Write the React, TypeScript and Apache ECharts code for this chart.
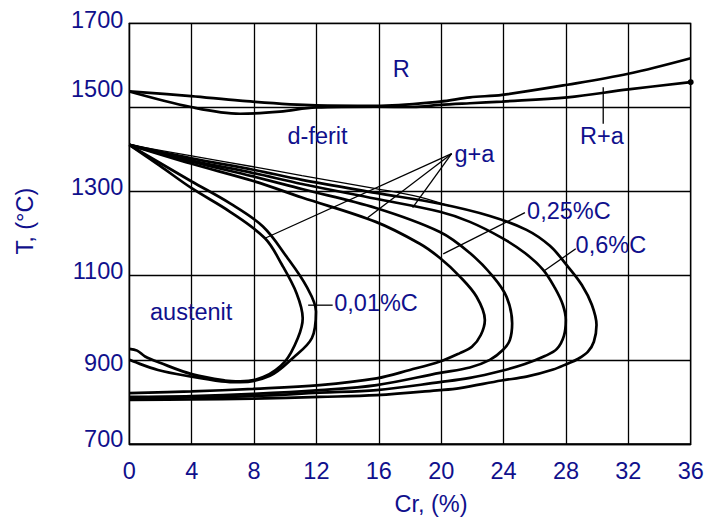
import React, { useEffect, useRef } from "react";
import * as echarts from "echarts";

type P = [number, number];

// Cr (%) vs T (°C)
const liquidusUpper: P[] = [[0,1538],[3.96,1527],[7.1,1516],[11.97,1505],[15.82,1504],[19.92,1514],[21.84,1524],[23.91,1530],[28.1,1554],[32.0,1580],[36,1617]];
const liquidusLower: P[] = [[0,1538],[3.96,1501],[7.1,1485],[9.66,1490],[11.97,1500],[15.82,1502],[18.19,1501],[19.92,1506],[21.84,1510],[23.91,1514],[28.1,1524],[32.0,1543],[36,1560]];

const loopA: P[] = [[0,1411],[1.97,1361],[4.0,1308],[6.46,1252],[8.7,1189],[9.79,1126],[10.73,1058],[11.12,999],[10.81,952],[9.98,896],[8.59,859],[7.1,849],[6.13,851],[4.0,866],[1.97,893],[1.01,908],[0.5,922],[0,926]];
const loopB: P[] = [[0,1411],[1.97,1368],[4.0,1324],[6.46,1272],[8.57,1217],[10.09,1145],[11.37,1074],[11.97,1015],[11.71,952],[10.51,905],[9.02,862],[7.1,847],[5.92,849],[4.0,860],[1.84,876],[0,900]];
const loopC: P[] = [[0,1411],[4.0,1366],[7.95,1325],[11.07,1286],[15.81,1228],[18.63,1176],[19.92,1142],[21.2,1098],[22.27,1050],[22.8,995],[22.54,959],[21.97,931],[21.2,916],[19.92,896],[17.99,876],[15.86,856],[12.22,840],[7.93,831],[4.0,825],[0,821]];
const loopD: P[] = [[0,1411],[4.0,1371],[7.95,1336],[11.07,1306],[15.81,1261],[19.92,1204],[21.84,1154],[23.33,1098],[24.19,1050],[24.55,987],[24.4,947],[23.97,924],[23.12,900],[21.84,882],[19.92,869],[15.86,840],[12.22,828],[7.93,819],[4.0,814],[0,812]];
const loopE: P[] = [[0,1411],[4.0,1374],[7.95,1344],[11.07,1318],[15.81,1283],[19.92,1252],[21.84,1228],[23.89,1190],[25.37,1154],[26.54,1114],[27.29,1071],[27.8,1031],[27.99,995],[27.87,957],[27.42,926],[26.65,909],[25.37,890],[23.89,874],[21.84,857],[19.92,847],[15.86,828],[12.22,822],[7.93,814],[4.0,811],[0,808]];
const loopF: P[] = [[0,1411],[4.0,1379],[7.95,1352],[11.07,1328],[15.81,1297],[19.92,1271],[23.12,1242],[25.47,1209],[26.97,1171],[28.1,1123],[29.02,1078],[29.66,1031],[29.96,983],[29.79,943],[29.4,919],[28.76,902],[28.1,891],[27.18,877],[25.47,860],[23.87,851],[21.2,833],[19.92,828],[15.86,816],[12.22,812],[7.93,808],[4.0,806],[0,805]];
const thinLine: P[] = [[0,1411],[4.0,1385],[7.95,1359],[11.07,1338],[15.81,1307],[18.64,1287],[20.5,1266]];

const leaders: P[][] = [
  [[20.67,1390],[8.7,1189]],
  [[20.67,1390],[15.28,1238]],
  [[20.67,1390],[18.17,1262]],
  [[25.37,1250],[20.13,1152]],
  [[28.63,1164],[26.54,1110]],
  [[11.47,1030],[13.04,1030]],
  [[30.39,1548],[30.39,1461]],
];

const labelNames = ["R", "d-ferit", "g+a", "R+a", "0,25%C", "0,6%C", "0,01%C", "austenit"];
const labelPos: P[] = [[17.44,1591],[12.07,1431],[22.13,1389],[30.3,1432],[28.19,1252],[30.88,1173],[15.82,1035],[3.97,1012]];

const yTickLabels = [700, 900, 1100, 1300, 1500, 1700];

const NAVY = "#10108c";
const FONT = "'Liberation Sans', Arial, sans-serif";
const FS = 23.5;

export default function App() {
  const ref = useRef<HTMLDivElement>(null);
  useEffect(() => {
    if (!ref.current) return;
    const chart = echarts.init(ref.current, undefined, { renderer: "svg" });
    const curve = (data: any[], width = 2.7) => ({
      type: "line",
      data,
      smooth: 0.35,
      symbol: "none",
      showSymbol: false,
      clip: false,
      lineStyle: { color: "#000", width },
      silent: true,
    });
    const lowerData: any[] = liquidusLower.slice(0, -1).map((p) => ({ value: p }));
    lowerData.push({ value: liquidusLower[liquidusLower.length - 1], symbol: "circle", symbolSize: 6, itemStyle: { color: "#000" } });
    const rich: any = {};
    const shifts: Record<number, number[]> = {
      700: [0, 0, 10, 0],
      900: [7, 0, 0, 0],
      1100: [0, 0, 9, 0],
      1300: [0, 0, 10, 0],
      1500: [0, 0, 37, 0],
      1700: [0, 0, 6, 0],
    };
    yTickLabels.forEach((v) => {
      rich["t" + v] = { color: NAVY, fontSize: FS, fontFamily: FONT, padding: shifts[v] };
    });
    const series: any[] = [
      curve(liquidusUpper),
      { ...curve(lowerData), symbol: "none", showSymbol: true },
      curve(loopA),
      curve(loopB),
      curve(loopC),
      curve(loopD),
      curve(loopE),
      curve(loopF),
      curve(thinLine, 1.3),
      ...leaders.map((l) => ({ ...curve(l, 1.3), smooth: false })),
      {
        type: "scatter",
        symbolSize: 1,
        itemStyle: { color: "#ffffff", opacity: 1 },
        silent: true,
        clip: false,
        data: labelNames.map((n, i) => ({ name: n, value: labelPos[i] })),
        label: {
          show: true,
          position: "top",
          distance: -12,
          formatter: (p: any) => p.name,
          color: NAVY,
          opacity: 1,
          textBorderWidth: 0,
          fontSize: FS,
          fontFamily: FONT,
        },
      },
    ];
    chart.setOption({
      animation: false,
      backgroundColor: "#fff",
      grid: {
        left: 129.3, right: 19.3, top: 23.3, bottom: 75,
        containLabel: false, outerBoundsMode: "none",
        show: true, borderColor: "#000", borderWidth: 1.3, backgroundColor: "transparent",
      },
      xAxis: {
        type: "value",
        min: 0,
        max: 36,
        interval: 4,
        axisLine: { show: true, lineStyle: { color: "#000", width: 1.3 } },
        axisTick: { show: false },
        splitLine: { show: true, lineStyle: { color: "#000", width: 1.3 } },
        axisLabel: { color: NAVY, fontSize: FS, fontFamily: FONT, margin: 15 },
        name: "Cr, (%)",
        nameLocation: "middle",
        nameGap: 48,
        nameTextStyle: { color: NAVY, fontSize: FS, fontFamily: FONT, padding: [0, 0, 0, 42] },
      },
      yAxis: {
        type: "value",
        min: 700,
        max: 1700,
        interval: 200,
        axisLine: { show: true, lineStyle: { color: "#000", width: 1.3 } },
        axisTick: { show: false },
        splitLine: { show: true, lineStyle: { color: "#000", width: 1.3 } },
        axisLabel: {
          color: NAVY,
          fontSize: FS,
          fontFamily: FONT,
          margin: 6,
          formatter: (v: number) => `{t${v}|${v}}`,
          rich,
        },
        name: "T, (°C)",
        nameLocation: "middle",
        nameRotate: 90,
        nameGap: 92,
        nameTextStyle: { color: NAVY, fontSize: FS, fontFamily: FONT, padding: [0, 0, 0, 25] },
      },
      series,
    });
    return () => chart.dispose();
  }, []);
  return <div ref={ref} style={{ position: "fixed", left: 0, top: 0, width: 710, height: 519 }} />;
}
